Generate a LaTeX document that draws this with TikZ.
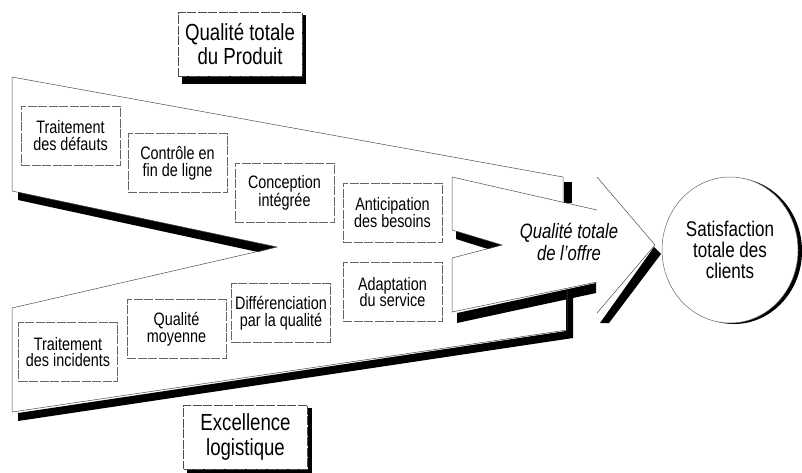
\documentclass[tikz,border=0pt]{standalone}
\usepackage{fontspec}
\setmainfont{Liberation Sans}[FakeStretch=0.8]
\usepackage{tikz}
\usetikzlibrary{shapes.geometric}

\tikzset{
  etape/.style={draw=black!60, line width=0.5pt, dash pattern=on 9pt off 1.5pt,
    fill=white, minimum width=99pt, minimum height=59pt, inner sep=0pt,
    align=center, font=\fontsize{18}{16.8}\selectfont},
  pilier/.style={etape, draw=black!70, minimum width=124pt, minimum height=64pt,
    font=\fontsize{23.3}{24.5}\selectfont},
  contour/.style={draw=black!70, line width=0.5pt},
  ombre/.style={fill=black},
}

\begin{document}
\begin{tikzpicture}[x=1pt,y=-1pt]
\useasboundingbox (0,0) rectangle (802,472);

% Shadows under the streams
\fill[ombre] (18,192) -- (277,247) -- (258,252) -- (18,200) -- cycle;
\fill[ombre] (456,231) -- (502,245) -- (488,249) -- (456,239) -- cycle;
\fill[ombre] (18,413) -- (566,331) -- (566,297) -- (573,297) -- (573,338) -- (18,421) -- cycle;
\fill[ombre] (457,313) -- (596,283) -- (596,293) -- (457,323) -- cycle;
\fill[ombre] (564,182) rectangle (572,203);
\fill[ombre] (600,323) -- (654,247) -- (661,254) -- (609,323) -- cycle;

% Outer streams
\draw[contour] (12,191) -- (12,77) -- (563,177) -- (563,202);
\draw[contour] (12,191) -- (277,247) -- (12,308) -- (12,412) -- (567,330) -- (567,288);

% Inner stream
\draw[contour] (452,230) -- (452,177) -- (597,210);
\draw[contour] (452,258) -- (452,312) -- (597,282);
\draw[contour] (452,230) -- (502,245) -- (452,258);

% Arrow head
\draw[contour] (597,177) -- (655,245) -- (597,313);

% Two pillars, with their shadows
\fill[ombre] (182,15) rectangle (306,84);
\fill[ombre] (187,408) rectangle (312,476);
\node[pilier] (produit) at (240,44) {Qualité totale\\du Produit};
\node[pilier] (logistique) at (245.5,437) {Excellence\\logistique};

% Upper steps
\node[etape] (defauts) at (70.5,135.5) {Traitement\\des défauts};
\node[etape] (controle) at (177.5,163) {Contrôle en\\fin de ligne};
\node[etape] (conception) at (284.5,192.5) {Conception\\intégrée};
\node[etape] (anticipation) at (392.5,212.5) {Anticipation\\des besoins};

% Lower steps
\node[etape] (incidents) at (68,352) {Traitement\\des incidents};
\node[etape] (moyenne) at (176.5,329) {Qualité\\moyenne};
\node[etape] (differenciation) at (281,313) {Différenciation\\par la qualité};
\node[etape] (adaptation) at (392.5,292) {Adaptation\\du service};

% Result
\node[font=\itshape\fontsize{20.8}{22}\selectfont, align=center] (offre) at (569,242) {Qualité totale\\de l'offre};
\fill[ombre] (734,251) ellipse (68 and 73);
\node[ellipse, draw=black!60, line width=0.5pt, fill=white, minimum width=136pt, minimum height=146pt,
  inner sep=0pt, align=center, font=\fontsize{21.3}{20.8}\selectfont]
  (clients) at (730,250) {Satisfaction\\totale des\\clients};

\end{tikzpicture}
\end{document}
